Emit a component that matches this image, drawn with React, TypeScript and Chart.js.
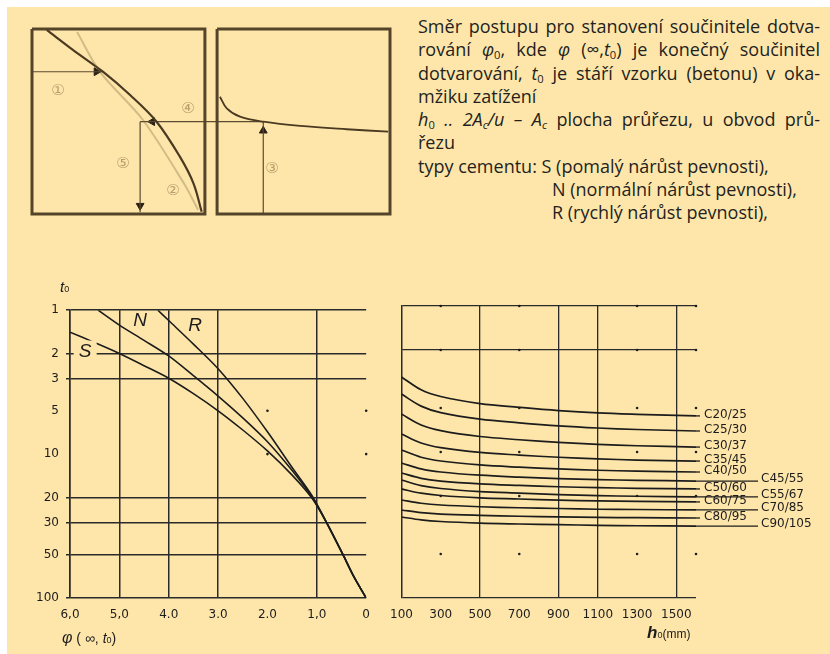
import React, { useEffect, useRef } from "react";
import { Chart, registerables } from "chart.js";

Chart.register(...registerables);

// ---------------- data ----------------
// left nomogram: creep coefficient phi(inf, t0) vs age t0 (log)
const phiTicks = [6, 5, 4, 3, 2, 1, 0];
const phiTickLabels = ["6,0", "5,0", "4.0", "3.0", "2.0", "1,0", "0"];
const phiGridHidden = [2, 0];
const t0Ticks = [1, 2, 3, 5, 10, 20, 30, 50, 100];
const t0TickLabels = ["1", "2", "3", "5", "10", "20", "30", "50", "100"];
const t0GridHidden = [5, 10];
const leftDotPhi = [2, 0];
const leftDotT0 = [5, 10];

const phiS = [6.0, 5.5, 5.0, 4.5, 4.0, 3.5, 3.0, 2.5, 2.0, 1.5, 1.1, 0.8, 0.47, 0.25, 0];
const t0S = [1.42, 1.68, 2.0, 2.43, 2.97, 3.8, 5.0, 6.8, 9.5, 14.0, 20.2, 30, 50, 71, 100];
const phiN = [5.43, 5.0, 4.5, 4.0, 3.5, 3.0, 2.5, 2.0, 1.5, 1.1, 0.8, 0.47, 0.25, 0];
const t0N = [1.0, 1.27, 1.62, 2.08, 2.85, 3.95, 5.6, 8.2, 13.0, 19.8, 30, 50, 71, 100];
const phiR = [4.22, 4.0, 3.5, 3.0, 2.5, 2.0, 1.5, 1.1, 0.8, 0.47, 0.25, 0];
const t0R = [1.0, 1.18, 1.72, 2.55, 4.1, 7.0, 12.4, 19.4, 30, 50, 71, 100];

// right nomogram: notional size h0 (mm) vs concrete class (same vertical scale)
const h0Ticks = [100, 300, 500, 700, 900, 1100, 1300, 1500];
const h0GridLines = [100, 500, 900, 1100, 1500];
const rightLineLevels = [1, 2, 100];
const rightLevels = [1, 2, 5, 10, 20, 50, 100];
const rightDotH = [300, 700, 1300, 1600];
const rightDotLevels = [1, 2, 5, 10, 20, 50];
const h0Values = [100, 200, 300, 500, 700, 900, 1100, 1300, 1600];
const concreteClasses = [
  "C20/25", "C25/30", "C30/37", "C35/45", "C40/50", "C45/55",
  "C50/60", "C55/67", "C60/75", "C70/85", "C80/95", "C90/105",
];
const c20_25 = [3.06, 3.75, 4.17, 4.66, 4.94, 5.2, 5.4, 5.52, 5.66];
const c25_30 = [4.01, 4.85, 5.37, 5.96, 6.31, 6.62, 6.85, 7.01, 7.18];
const c30_37 = [5.5, 6.53, 7.13, 7.83, 8.24, 8.59, 8.87, 9.06, 9.25];
const c35_45 = [7.53, 8.67, 9.33, 10.07, 10.5, 10.86, 11.14, 11.35, 11.53];
const c40_50 = [9.68, 10.86, 11.53, 12.27, 12.71, 13.06, 13.34, 13.52, 13.71];
const c45_55 = [11.89, 13.06, 13.71, 14.42, 14.86, 15.21, 15.45, 15.63, 15.81];
const c50_60 = [13.93, 15.14, 15.81, 16.52, 16.94, 17.3, 17.54, 17.74, 17.91];
const c55_67 = [15.56, 16.98, 17.78, 18.66, 19.14, 19.59, 19.91, 20.09, 20.32];
const c60_75 = [17.91, 19.14, 19.86, 20.61, 20.99, 21.38, 21.63, 21.78, 21.98];
const c70_85 = [21.33, 22.44, 23.07, 23.71, 24.1, 24.38, 24.66, 24.77, 24.95];
const c80_95 = [24.95, 26.0, 26.61, 27.16, 27.54, 27.8, 28.05, 28.18, 28.31];
const c90_105 = [27.86, 29.17, 29.92, 30.69, 31.12, 31.48, 31.77, 31.99, 32.14];
const classSeries = [
  c20_25, c25_30, c30_37, c35_45, c40_50, c45_55,
  c50_60, c55_67, c60_75, c70_85, c80_95, c90_105,
];

// schematic (diagram units 0..100)
const diagLeftBoxX = [0, 48.3, 48.3, 0, 0];
const diagRightBoxX = [51.7, 100, 100, 51.7, 51.7];
const diagBoxY = [0, 0, 100, 100, 0];
const diagCurveLX = [4.1, 11.5, 19.8, 27.4, 34.8, 41.3, 45.1, 47.4];
const diagCurveLY = [0.5, 11.4, 23.1, 35.7, 50.1, 69.0, 83.4, 98.8];
const diagFaintX = [12.6, 19.0, 31.0, 42.7, 46.4];
const diagFaintY = [1.6, 23.2, 49.2, 84.3, 97.8];
const diagCurveRX = [52.5, 54.4, 58.1, 64.6, 74.9, 87.9, 99.5];
const diagCurveRY = [36.6, 42.9, 47.4, 50.1, 52.4, 54.2, 55.5];
const step1X = [0, 19.8];
const step1Y = [23.1, 23.1];
const step4X = [30.2, 64.6];
const step4Y = [50.1, 50.1];
const step5X = [30.2, 30.2];
const step5Y = [50.1, 99];
const step3X = [64.6, 64.6];
const step3Y = [100, 50.1];
const arrowX = [18.0, 33.6, 30.2, 64.6];
const arrowY = [23.1, 50.1, 95.5, 55.0];
const arrowRot = [90, 270, 180, 0];

// ---------------- styles ----------------
const INK = "#1c1c1c";
const GRID = "#2a2a2a";
const BG = "#FEE6AA";
const NONE = "rgba(0,0,0,0)";
const FRAME = "#55442a";
const TICK_FONT = { family: "'DejaVu Sans', sans-serif", size: 12 };

const zip = (xs: number[], ys: number[]) => xs.map((x, i) => ({ x, y: ys[i] }));

const classLabelPlugin = {
  id: "classLabels",
  afterDatasetsDraw(chart: any) {
    const { ctx, chartArea } = chart;
    ctx.save();
    ctx.font = "12px 'DejaVu Sans', sans-serif";
    ctx.fillStyle = INK;
    ctx.strokeStyle = INK;
    ctx.lineWidth = 1.3;
    ctx.textBaseline = "middle";
    concreteClasses.forEach((name, i) => {
      const meta = chart.getDatasetMeta(i);
      const last = meta.data[meta.data.length - 1];
      const y = last.y;
      const outer = i >= 5 && i % 2 === 1;
      if (outer) {
        ctx.beginPath();
        ctx.moveTo(chartArea.right, y);
        ctx.lineTo(chartArea.right + 62, y);
        ctx.stroke();
        ctx.fillText(name, chartArea.right + 65, y - 2);
      } else {
        ctx.beginPath();
        ctx.moveTo(chartArea.right, y);
        ctx.lineTo(chartArea.right + 4, y);
        ctx.stroke();
        ctx.fillText(name, chartArea.right + 8, y - 1);
      }
    });
    ctx.restore();
  },
};

const Sub = ({ children }: { children: any }) => (
  <span style={{ fontSize: "0.62em", position: "relative", top: "0.28em" }}>{children}</span>
);

const Abs = ({ x, y, style, children }: any) => (
  <div
    style={{
      position: "absolute",
      left: x,
      top: y,
      transform: "translate(-50%, -50%)",
      whiteSpace: "nowrap",
      lineHeight: 1,
      ...style,
    }}
  >
    {children}
  </div>
);

export default function App() {
  const diagRef = useRef<HTMLCanvasElement>(null);
  const leftRef = useRef<HTMLCanvasElement>(null);
  const rightRef = useRef<HTMLCanvasElement>(null);

  useEffect(() => {
    const charts: Chart[] = [];

    // ---- schematic ----
    const line = (xs: number[], ys: number[], color: string, width: number, tension = 0) => ({
      data: zip(xs, ys),
      showLine: true,
      borderColor: color,
      borderWidth: width,
      pointRadius: 0,
      tension,
      clip: false as any,
      borderJoinStyle: "miter" as any,
    });
    charts.push(
      new Chart(diagRef.current!, {
        type: "scatter",
        data: {
          datasets: [
            line(diagFaintX, diagFaintY, "rgba(110,90,50,0.3)", 2, 0.3),
            line(diagLeftBoxX, diagBoxY, FRAME, 3),
            line(diagRightBoxX, diagBoxY, FRAME, 3),
            line(diagCurveLX, diagCurveLY, "#4a3a22", 2.2, 0.35),
            line(diagCurveRX, diagCurveRY, "#4a3a22", 1.8, 0.35),
            line(step1X, step1Y, "#5a4a30", 1.2),
            line(step4X, step4Y, "#5a4a30", 1.2),
            line(step5X, step5Y, "#5a4a30", 1.2),
            line(step3X, step3Y, "#5a4a30", 1.2),
            {
              data: zip(arrowX, arrowY),
              pointStyle: "triangle",
              pointRadius: 4.5,
              rotation: arrowRot as any,
              backgroundColor: "#2a2016",
              borderColor: "#2a2016",
              borderWidth: 1,
              showLine: false,
              clip: false as any,
            },
          ],
        },
        options: {
          animation: false,
          responsive: false,
          events: [],
          layout: { padding: 6 },
          plugins: { legend: { display: false }, tooltip: { enabled: false } },
          scales: {
            x: { type: "linear", min: 0, max: 100, display: false },
            y: { type: "linear", min: 0, max: 100, reverse: true, display: false },
          },
        },
      })
    );

    // ---- left nomogram ----
    const curve = (xs: number[], ys: number[]) => ({
      data: zip(xs, ys),
      showLine: true,
      borderColor: INK,
      borderWidth: 1.6,
      pointRadius: 0,
      tension: 0.3,
    });
    const leftDots: { x: number; y: number }[] = [];
    leftDotPhi.forEach((p) => leftDotT0.forEach((t) => leftDots.push({ x: p, y: t })));
    charts.push(
      new Chart(leftRef.current!, {
        type: "scatter",
        data: {
          datasets: [
            curve(phiS, t0S),
            curve(phiN, t0N),
            curve(phiR, t0R),
            {
              data: leftDots,
              pointRadius: 1.3,
              backgroundColor: INK,
              borderWidth: 0,
              showLine: false,
              clip: false as any,
            },
          ],
        },
        options: {
          animation: false,
          responsive: false,
          events: [],
          layout: { padding: { top: 10, right: 10, bottom: 10, left: 0 } },
          plugins: { legend: { display: false }, tooltip: { enabled: false } },
          scales: {
            x: {
              type: "linear",
              min: 0,
              max: 6,
              reverse: true,
              afterBuildTicks: (s: any) => {
                s.ticks = phiTicks.map((v) => ({ value: v }));
              },
              afterFit: (s: any) => {
                s.height = 46;
              },
              ticks: {
                autoSkip: false,
                maxRotation: 0,
                padding: 10,
                color: INK,
                font: TICK_FONT,
                callback: (v: any) => phiTickLabels[phiTicks.indexOf(Number(v))],
              },
              grid: {
                drawTicks: false,
                lineWidth: 1.5,
                color: (c: any) => (c.tick && phiGridHidden.includes(c.tick.value) ? NONE : GRID),
              },
              border: { display: false },
            },
            y: {
              type: "logarithmic",
              min: 1,
              max: 100,
              reverse: true,
              afterBuildTicks: (s: any) => {
                s.ticks = t0Ticks.map((v) => ({ value: v }));
              },
              afterFit: (s: any) => {
                s.width = 70;
              },
              ticks: {
                autoSkip: false,
                padding: 7,
                color: INK,
                font: TICK_FONT,
                callback: (v: any) => t0TickLabels[t0Ticks.indexOf(Number(v))],
              },
              grid: {
                tickLength: 4,
                lineWidth: 1.5,
                color: (c: any) => (c.tick && t0GridHidden.includes(c.tick.value) ? NONE : GRID),
              },
              border: { display: true, color: GRID, width: 1.5 },
            },
          },
        },
      })
    );

    // ---- right nomogram ----
    const rightDots: { x: number; y: number }[] = [];
    rightDotH.forEach((h) => rightDotLevels.forEach((t) => rightDots.push({ x: h, y: t })));
    charts.push(
      new Chart(rightRef.current!, {
        type: "scatter",
        data: {
          datasets: [
            ...classSeries.map((s) => ({
              data: zip(h0Values, s),
              showLine: true,
              borderColor: INK,
              borderWidth: 1.7,
              pointRadius: 0,
              tension: 0.35,
            })),
            {
              data: rightDots,
              pointRadius: 1.3,
              backgroundColor: INK,
              borderWidth: 0,
              showLine: false,
              clip: false as any,
            },
          ],
        },
        options: {
          animation: false,
          responsive: false,
          events: [],
          layout: { padding: { top: 10, right: 134, bottom: 10, left: 0 } },
          plugins: { legend: { display: false }, tooltip: { enabled: false } },
          scales: {
            x: {
              type: "linear",
              min: 100,
              max: 1600,
              afterBuildTicks: (s: any) => {
                s.ticks = h0Ticks.map((v) => ({ value: v }));
              },
              afterFit: (s: any) => {
                s.height = 46;
              },
              ticks: {
                autoSkip: false,
                maxRotation: 0,
                padding: 10,
                color: INK,
                font: TICK_FONT,
                callback: (v: any) => String(v),
              },
              grid: {
                drawTicks: false,
                lineWidth: 1.3,
                color: (c: any) => (c.tick && h0GridLines.includes(c.tick.value) ? GRID : NONE),
              },
              border: { display: false },
            },
            y: {
              type: "logarithmic",
              min: 1,
              max: 100,
              reverse: true,
              afterBuildTicks: (s: any) => {
                s.ticks = rightLevels.map((v) => ({ value: v }));
              },
              afterFit: (s: any) => {
                s.width = 13;
              },
              ticks: { display: false },
              grid: {
                drawTicks: false,
                lineWidth: 1.3,
                color: (c: any) => (c.tick && rightLineLevels.includes(c.tick.value) ? GRID : NONE),
              },
              border: { display: true, color: GRID, width: 1.3 },
            },
          },
        },
        plugins: [classLabelPlugin],
      })
    );

    return () => charts.forEach((c) => c.destroy());
  }, []);

  const textLine = (justify: boolean, extra?: any) => ({
    height: 23.3,
    lineHeight: "23.3px",
    whiteSpace: "nowrap" as any,
    textAlign: justify ? ("justify" as any) : ("left" as any),
    textAlignLast: justify ? ("justify" as any) : ("left" as any),
    ...extra,
  });

  const circled = { fontSize: 15, color: "rgba(120,100,60,0.55)", fontFamily: "'DejaVu Sans', sans-serif" };
  const italicLetter = { fontFamily: "'Liberation Sans', Arial, sans-serif", fontStyle: "italic", fontSize: 19, color: INK };

  return (
    <div style={{ position: "absolute", left: 0, top: 0, width: 830, height: 654, background: "#fff", overflow: "hidden" }}>
      <div style={{ position: "absolute", left: 7, top: 7, width: 823, height: 647, background: BG }} />

      {/* schematic */}
      <canvas ref={diagRef} width={370} height={197} style={{ position: "absolute", left: 26, top: 23, display: "block" }} />
      <Abs x={58} y={90} style={circled}>①</Abs>
      <Abs x={188} y={108} style={circled}>④</Abs>
      <Abs x={123} y={163} style={circled}>⑤</Abs>
      <Abs x={173} y={190} style={circled}>②</Abs>
      <Abs x={272} y={168} style={circled}>③</Abs>

      {/* description */}
      <div
        style={{
          position: "absolute",
          left: 418,
          top: 15,
          width: 402,
          fontFamily: "'Open Sans', sans-serif",
          fontSize: 18,
          color: "#231f20",
        }}
      >
        <div style={textLine(true)}>Směr postupu pro stanovení součinitele dotva-</div>
        <div style={textLine(true)}>
          rování <i>φ</i><Sub>0</Sub>, kde <i>φ</i> (∞,<i>t</i><Sub>0</Sub>) je konečný součinitel
        </div>
        <div style={textLine(true)}>
          dotvarování, <i>t</i><Sub>0</Sub> je stáří vzorku (betonu) v oka-
        </div>
        <div style={textLine(false)}>mžiku zatížení</div>
        <div style={textLine(true)}>
          <i>h</i><Sub>0</Sub> <i>.. 2A</i><Sub><i>c</i></Sub><i>/u – A</i><Sub><i>c</i></Sub> plocha průřezu, u obvod prů-
        </div>
        <div style={textLine(false)}>řezu</div>
        <div style={textLine(false)}>typy cementu: S (pomalý nárůst pevnosti),</div>
        <div style={textLine(false, { paddingLeft: 134 })}>N (normální nárůst pevnosti),</div>
        <div style={textLine(false, { paddingLeft: 134 })}>R (rychlý nárůst pevnosti),</div>
      </div>

      {/* nomograms */}
      <canvas ref={leftRef} width={380} height={358} style={{ position: "absolute", left: 0, top: 296, display: "block" }} />
      <canvas ref={rightRef} width={450} height={358} style={{ position: "absolute", left: 380, top: 296, display: "block" }} />

      <Abs x={140} y={319} style={italicLetter}>N</Abs>
      <Abs x={195} y={324} style={italicLetter}>R</Abs>
      <Abs x={85} y={350} style={{ ...italicLetter, background: BG, padding: "0 5px" }}>S</Abs>

      <div style={{ position: "absolute", left: 60, top: 279, fontFamily: "'Liberation Sans', Arial, sans-serif", fontSize: 15, fontStyle: "italic", color: INK, lineHeight: 1 }}>
        t<span style={{ fontSize: 9, fontStyle: "normal" }}>0</span>
      </div>
      <div style={{ position: "absolute", left: 62, top: 630, fontFamily: "'Liberation Sans', Arial, sans-serif", fontSize: 14, color: INK, lineHeight: 1, whiteSpace: "nowrap" }}>
        <i style={{ fontSize: 16 }}>φ</i> ( ∞, <i>t</i><span style={{ fontSize: 9 }}>0</span>)
      </div>
      <div style={{ position: "absolute", left: 647, top: 624, fontFamily: "'Liberation Sans', Arial, sans-serif", color: INK, lineHeight: 1, whiteSpace: "nowrap" }}>
        <b><i style={{ fontSize: 17 }}>h</i></b>
        <span style={{ fontSize: 9 }}>0</span>
        <span style={{ fontSize: 12 }}>(mm)</span>
      </div>
    </div>
  );
}
